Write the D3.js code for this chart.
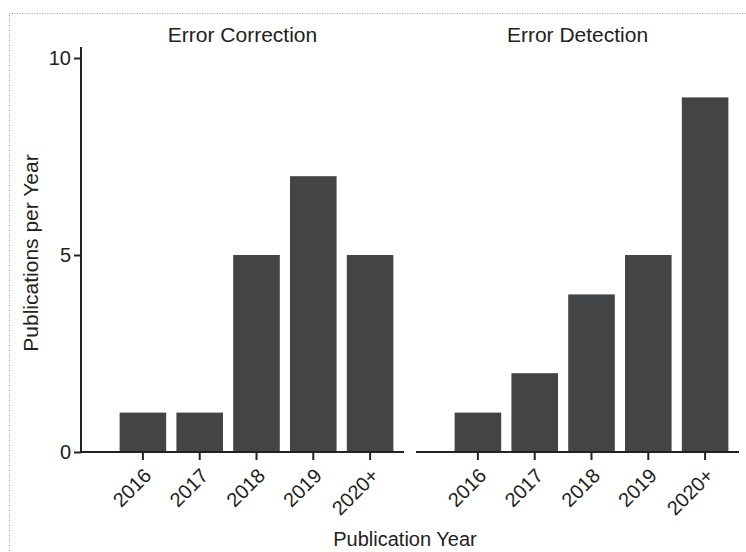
<!DOCTYPE html>
<html>
<head>
<meta charset="utf-8">
<script src="https://cdn.jsdelivr.net/npm/d3@7"></script>
<style>
  body { margin: 0; background: #fff; }
  text { font-family: "Liberation Sans", Arial, Helvetica, sans-serif; fill: #222; }
</style>
</head>
<body>
<script>
// Chart data

const years = ["2016", "2017", "2018", "2019", "2020+"];
const panels = ["Error Correction", "Error Detection"];
const correctionCounts = [1, 1, 5, 7, 5];
const detectionCounts = [1, 2, 4, 5, 9];
const yTicks = [0, 5, 10];

let svgWidth = 746;
let svgHeight = 552;

let svg = d3.select("body")
  .append("svg")
  .attr("width", svgWidth)
  .attr("height", svgHeight);

// dotted frame (only top and left edges fall inside the picture)
svg.append("rect")
  .attr("x", 9.5)
  .attr("y", 13.5)
  .attr("width", 800)
  .attr("height", 600)
  .attr("fill", "none")
  .attr("stroke", "#a0a0a0")
  .attr("stroke-dasharray", "1,1.5");

// Layout
let plotTop = 47, plotBottom = 452;
let panelLeft = 81, panelWidth = 323, panelGap = 12;

let yScale = d3.scaleLinear()
  .domain([0, 10])
  .range([plotBottom, plotBottom - 10 * 39.4]);

let xScale = d3.scaleBand()
  .domain(years)
  .range([33.5, 317.5])
  .paddingInner(0.18)
  .paddingOuter(0.09);

let panelData = [correctionCounts, detectionCounts];

panelData.forEach(function(counts, i) {
  let g = svg.append("g")
    .attr("transform", `translate(${panelLeft + i * (panelWidth + panelGap)}, 0)`);

  // bars
  g.selectAll(".bar")
    .data(years)
    .enter().append("rect")
    .attr("class", "bar")
    .attr("x", d => xScale(d))
    .attr("width", xScale.bandwidth())
    .attr("y", (d, j) => yScale(counts[j]))
    .attr("height", (d, j) => yScale(0) - yScale(counts[j]))
    .attr("fill", "#434446");

  // x axis
  let bottomAxis = d3.axisBottom(xScale).tickSize(8).tickSizeOuter(0);
  let xg = g.append("g")
    .attr("transform", `translate(0, ${plotBottom})`)
    .call(bottomAxis);
  xg.select(".domain")
    .attr("d", `M0,0H${panelWidth}`)
    .attr("stroke", "#222")
    .attr("stroke-width", 2);
  xg.selectAll(".tick line").attr("stroke", "#222").attr("stroke-width", 2);
  xg.selectAll(".tick text")
    .attr("font-size", 20)
    .attr("fill", "#222")
    .attr("text-anchor", "end")
    .attr("dx", 0)
    .attr("dy", 0)
    .attr("transform", "translate(2, 17) rotate(-45)");

  // panel title
  g.append("text")
    .attr("x", panelWidth / 2)
    .attr("y", 42)
    .attr("text-anchor", "middle")
    .attr("font-size", 21)
    .text(panels[i]);

  // y axis only on the first panel
  if (i === 0) {
    let leftAxis = d3.axisLeft(yScale).tickValues(yTicks).tickSize(7).tickSizeOuter(0);
    let yg = g.append("g").call(leftAxis);
    yg.select(".domain")
      .attr("d", `M0,${plotTop}V${plotBottom}`)
      .attr("stroke", "#222")
      .attr("stroke-width", 2);
    yg.selectAll(".tick line").attr("stroke", "#222").attr("stroke-width", 2);
    yg.selectAll(".tick text")
      .attr("font-size", 20)
      .attr("fill", "#222")
      .attr("x", -10);
  }
});

// axis titles
svg.append("text")
  .attr("x", 405)
  .attr("y", 546)
  .attr("text-anchor", "middle")
  .attr("font-size", 20)
  .text("Publication Year");

svg.append("text")
  .attr("transform", `translate(38, 253) rotate(-90)`)
  .attr("text-anchor", "middle")
  .attr("font-size", 21)
  .text("Publications per Year");
</script>
</body>
</html>
